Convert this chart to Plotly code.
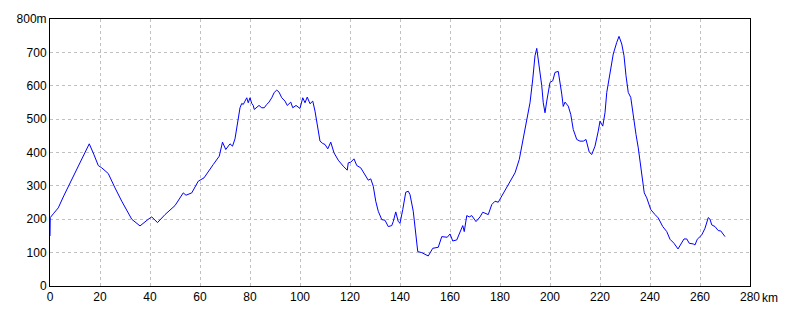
import plotly.graph_objects as go

km = [0, 0.1, 1.5, 3.3, 5.5, 8, 11.3, 14.4, 15.7, 17.5, 19.3, 20.7, 23.3, 26, 28.7, 32.7, 36, 39.3, 40.7, 43,
      46, 50, 53.3, 54.4, 56.7, 59.3, 61.6, 65.3, 67.7, 69, 70.3, 72, 73, 74, 74.7, 75.3, 76, 76.7, 77.3, 78,
      78.7, 79.3, 80, 80.7, 81.3, 81.7, 82.7, 83.6, 84.7, 85.7, 86.7, 87.6, 88.7, 89.7, 90.7, 91.6, 92.7, 94,
      94.9, 96.3, 97.1, 98.4, 100, 101.1, 102, 102.9, 104, 105.1, 106, 106.9, 108, 109.1, 110, 111.1, 112.3,
      113.6, 115.3, 117.3, 118.9, 119.3, 120.3, 121.6, 122.7, 124.3, 126, 127.3, 128.3, 129.3, 130.3, 131.3,
      132.7, 134, 135.3, 136.7, 137.3, 138.3, 139.3, 140, 141.1, 142.3, 143.3, 144, 145.3, 146.4, 147.1,
      148.7, 149.5, 151.3, 153.1, 155.3, 156.7, 158, 158.9, 160, 161.1, 162.7, 164, 165.1, 165.7, 166.7,
      167.7, 168.7, 170.4, 172, 173.1, 175.3, 176.7, 178, 179.3, 181.3, 184, 186, 187.7, 189.3, 190.9, 192,
      193.1, 194, 194.7, 195.7, 196.7, 197.3, 198, 198.7, 199.3, 200, 201.1, 202, 203.3, 204, 204.7, 205.3,
      206, 207.3, 208.3, 209.3, 210.7, 212, 213.3, 214.4, 214.9, 215.7, 216.7, 218, 219.3, 220, 221.1, 222,
      222.7, 224, 225.3, 226.7, 227.6, 228.7, 229.6, 230.4, 231.3, 232.3, 233.3, 234.4, 235.3, 236.7, 237.7,
      238.7, 240.3, 242, 243.3, 245.1, 246, 246.7, 248, 249.6, 251.2, 252, 253.6, 254.7, 255.7, 257.3, 258,
      258.9, 260.7, 262, 263.3, 264, 264.7, 266, 267.3, 268.3, 270]
elevation = [150, 205, 218, 234, 270, 309, 359, 409, 426, 395, 361, 354, 337, 294, 254, 200, 180, 200, 207, 190,
             214, 241, 279, 272, 279, 314, 324, 364, 389, 431, 409, 426, 419, 441, 479, 509, 534, 547, 544, 554,
             564, 549, 564, 547, 541, 529, 534, 541, 534, 534, 544, 551, 564, 580, 587, 581, 564, 554,
             541, 551, 534, 541, 532, 564, 549, 566, 546, 554, 524, 479, 434, 427, 424, 411, 431,
             399, 377, 359, 347, 369, 371, 381, 361, 354, 334, 317, 321, 299, 254, 224,
             199, 197, 178, 181, 193, 222, 193, 188, 229, 281, 284, 274, 224, 148, 103,
             100, 97, 90, 113, 116, 148, 148, 146, 156, 135, 138, 163, 181, 163, 211,
             207, 211, 193, 207, 221, 214, 244, 254, 251, 277, 311, 339, 379, 439, 499, 549,
             620, 690, 712, 660, 600, 549, 519, 554, 584, 610, 615, 640, 643, 615, 575, 538,
             551, 539, 514, 469, 439, 434, 434, 439, 427, 401, 394, 419, 464, 494, 479, 519,
             580, 640, 695, 730, 748, 725, 690, 630, 580, 565, 509, 454, 414, 339, 279,
             264, 229, 214, 204, 178, 168, 163, 140, 128, 111, 120, 141, 141, 128, 126, 123,
             140, 153, 173, 205, 200, 183, 178, 166, 165, 148]

x_ticks = [0, 20, 40, 60, 80, 100, 120, 140, 160, 180, 200, 220, 240, 260, 280]
x_labels = ["0", "20", "40", "60", "80", "100", "120", "140", "160", "180", "200", "220", "240", "260", "280"]
y_ticks = [0, 100, 200, 300, 400, 500, 600, 700, 800]
y_labels = ["0", "100", "200", "300", "400", "500", "600", "700", "800m"]

fig = go.Figure()
fig.add_trace(go.Scatter(x=km, y=elevation, mode="lines",
                         line=dict(color="#0000ff", width=1), hoverinfo="skip"))

font = dict(family="Liberation Sans, Arial, sans-serif", size=12, color="black")
fig.update_layout(
    width=790, height=316,
    margin=dict(l=50, r=40, t=19, b=30),
    paper_bgcolor="white", plot_bgcolor="white",
    showlegend=False, font=font,
    xaxis=dict(range=[0, 280], tickvals=x_ticks, ticktext=x_labels,
               showgrid=True, gridcolor="#c0c0c0", griddash="3px,3px", gridwidth=1,
               showline=True, linecolor="black", linewidth=1, mirror=True,
               ticks="", ticklen=0, zeroline=False, tickfont=font),
    yaxis=dict(range=[0, 800], tickvals=y_ticks, ticktext=y_labels,
               showgrid=True, gridcolor="#c0c0c0", griddash="3px,3px", gridwidth=1,
               showline=True, linecolor="black", linewidth=1, mirror=True,
               ticks="", ticklen=0, zeroline=False, tickfont=font),
)
fig.add_annotation(x=1, y=0, xref="paper", yref="paper", text="km", showarrow=False,
                   xanchor="left", yanchor="top", xshift=10, yshift=-3, font=font)
fig.write_html("out.html")
